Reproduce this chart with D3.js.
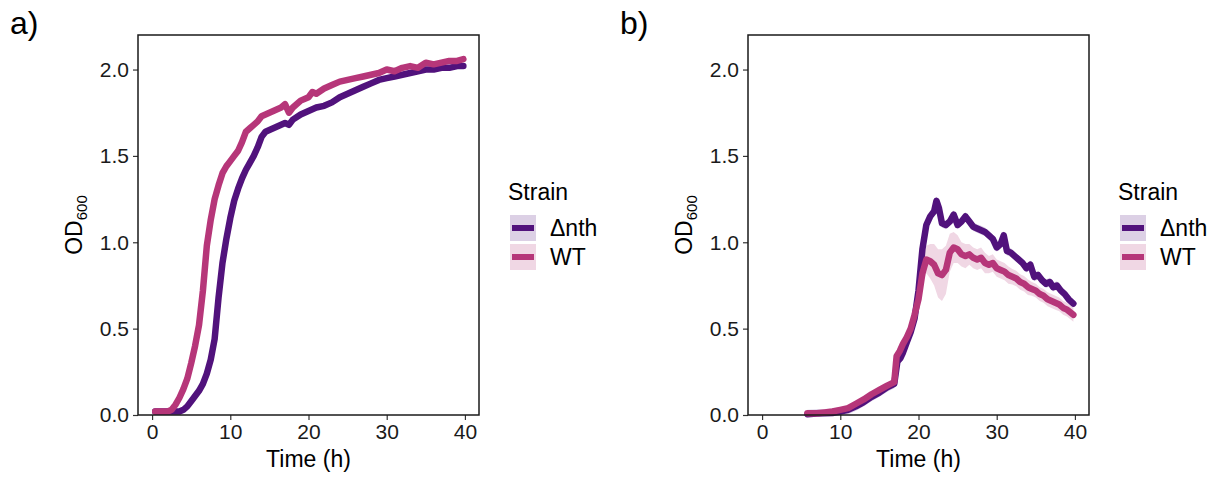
<!DOCTYPE html>
<html>
<head>
<meta charset="utf-8">
<script src="https://cdn.jsdelivr.net/npm/d3@7"></script>
<style>
  body { margin: 0; background: #fff; }
  text { font-family: 'Liberation Sans', Arial, sans-serif; }
</style>
</head>
<body>
<div id="chart"></div>
<script>
// data
const strains = ['Δnth', 'WT'];
const strainColors = ['#51127c', '#b63679'];
const xTicks = [0, 10, 20, 30, 40];
const yTicks = [0, 0.5, 1.0, 1.5, 2.0];

// panel a
const timeA_nth = [0.4, 1, 2, 3, 3.5, 4, 4.5, 5, 5.5, 6, 6.5, 7, 7.5, 8, 8.5, 9, 9.5, 10, 10.5, 11, 11.5, 12, 12.5, 13, 13.5, 14, 14.5, 15, 16, 17, 17.5, 18, 19, 20, 21, 22, 23, 24, 25, 26, 27, 28, 29, 30, 31, 32, 33, 34, 35, 36, 37, 38, 39, 39.8];
const odA_nth = [0.02, 0.02, 0.02, 0.02, 0.02, 0.03, 0.05, 0.08, 0.11, 0.14, 0.18, 0.24, 0.32, 0.44, 0.68, 0.88, 1.02, 1.14, 1.24, 1.31, 1.37, 1.42, 1.46, 1.50, 1.55, 1.61, 1.64, 1.65, 1.67, 1.69, 1.68, 1.71, 1.74, 1.76, 1.78, 1.79, 1.81, 1.84, 1.86, 1.88, 1.90, 1.92, 1.94, 1.95, 1.96, 1.97, 1.98, 1.99, 2.00, 2.00, 2.01, 2.01, 2.02, 2.02];
const timeA_wt = [0.4, 1, 2, 2.5, 3, 3.5, 4, 4.5, 5, 5.5, 6, 6.5, 7, 7.5, 8, 8.5, 9, 9.5, 10, 10.5, 11, 11.5, 12, 12.5, 13, 13.5, 14, 15, 16, 16.5, 17, 17.5, 18, 19, 20, 20.5, 21, 22, 23, 24, 25, 26, 27, 28, 29, 30, 31, 32, 33, 34, 35, 36, 37, 38, 39, 39.8];
const odA_wt = [0.02, 0.02, 0.02, 0.03, 0.06, 0.10, 0.15, 0.21, 0.30, 0.40, 0.52, 0.72, 0.98, 1.13, 1.25, 1.33, 1.40, 1.44, 1.47, 1.50, 1.53, 1.58, 1.64, 1.66, 1.68, 1.70, 1.73, 1.75, 1.77, 1.78, 1.80, 1.75, 1.78, 1.82, 1.84, 1.87, 1.86, 1.89, 1.91, 1.93, 1.94, 1.95, 1.96, 1.97, 1.98, 2.00, 1.99, 2.01, 2.02, 2.01, 2.04, 2.03, 2.04, 2.05, 2.05, 2.06];
const sdA_nth = 0.01;
const sdA_wt = 0.01;

// panel b
const timeB_nth = [5.8, 7, 8, 9, 10, 11, 12, 13, 14, 15, 16, 16.9, 17.3, 17.7, 18, 18.5, 19, 19.5, 20, 20.5, 21, 21.5, 22, 22.3, 22.6, 23, 23.5, 24, 24.5, 25, 25.5, 26, 26.5, 27, 27.5, 28, 28.5, 29, 29.5, 30, 30.5, 30.9, 31.3, 31.8, 32.3, 32.8, 33.3, 33.8, 34.3, 34.8, 35.3, 35.8, 36.3, 36.8, 37.2, 37.7, 38.2, 38.7, 39.2, 39.8];
const odB_nth = [0.005, 0.008, 0.01, 0.012, 0.02, 0.03, 0.05, 0.075, 0.105, 0.13, 0.16, 0.18, 0.31, 0.33, 0.36, 0.42, 0.48, 0.56, 0.72, 0.96, 1.10, 1.15, 1.18, 1.24, 1.20, 1.11, 1.10, 1.12, 1.16, 1.10, 1.12, 1.15, 1.12, 1.09, 1.08, 1.07, 1.06, 1.04, 1.02, 0.97, 0.99, 1.04, 0.95, 0.94, 0.92, 0.90, 0.88, 0.85, 0.87, 0.80, 0.81, 0.78, 0.76, 0.77, 0.74, 0.75, 0.72, 0.70, 0.67, 0.645];
const sdB_nth = 0.025;
const timeB_wt = [5.8, 7, 8, 9, 10, 11, 12, 13, 14, 15, 16, 16.9, 17.2, 17.6, 18, 18.5, 19, 19.5, 20, 20.5, 21, 21.5, 22, 22.5, 23, 23.5, 24, 24.5, 25, 25.5, 26, 26.5, 27, 27.5, 28, 28.5, 29, 29.5, 30, 30.5, 31, 31.5, 32, 32.5, 33, 33.5, 34, 34.5, 35, 35.5, 36, 36.5, 37, 37.5, 38, 38.5, 39, 39.8];
const odB_wt = [0.01, 0.01, 0.015, 0.02, 0.03, 0.04, 0.065, 0.09, 0.12, 0.145, 0.17, 0.19, 0.34, 0.37, 0.41, 0.45, 0.50, 0.58, 0.67, 0.82, 0.90, 0.89, 0.87, 0.82, 0.81, 0.84, 0.94, 0.97, 0.96, 0.93, 0.92, 0.93, 0.91, 0.90, 0.91, 0.88, 0.87, 0.88, 0.85, 0.84, 0.83, 0.81, 0.80, 0.79, 0.77, 0.76, 0.74, 0.73, 0.72, 0.70, 0.69, 0.67, 0.66, 0.65, 0.64, 0.62, 0.61, 0.58];
const sdB_wt = [0.005, 0.005, 0.005, 0.005, 0.005, 0.005, 0.008, 0.01, 0.01, 0.01, 0.01, 0.01, 0.02, 0.02, 0.02, 0.02, 0.02, 0.03, 0.04, 0.06, 0.08, 0.10, 0.12, 0.14, 0.15, 0.14, 0.11, 0.09, 0.08, 0.07, 0.07, 0.06, 0.06, 0.06, 0.06, 0.06, 0.05, 0.05, 0.05, 0.05, 0.05, 0.05, 0.045, 0.045, 0.045, 0.045, 0.045, 0.04, 0.04, 0.04, 0.04, 0.04, 0.04, 0.04, 0.04, 0.04, 0.04, 0.04];

const width = 1217;
const height = 477;

const svg = d3.select('#chart')
    .append('svg')
    .attr('width', width)
    .attr('height', height);

const toRows = (times, values, sd) => times.map((t, i) => ({
  t,
  v: values[i],
  sd: Array.isArray(sd) ? sd[i] : sd
}));

const panels = [
  {
    label: 'a)', left: 138,
    series: [toRows(timeA_nth, odA_nth, sdA_nth), toRows(timeA_wt, odA_wt, sdA_wt)]
  },
  {
    label: 'b)', left: 748,
    series: [toRows(timeB_nth, odB_nth, sdB_nth), toRows(timeB_wt, odB_wt, sdB_wt)]
  }
];

const panelW = 341;
const plotTop = 35;
const plotBottom = 415;

panels.forEach((p) => {
  const x = d3.scaleLinear().domain([-1.8, 41.8]).range([p.left, p.left + panelW]);
  const y = d3.scaleLinear().domain([0, 2.2]).range([plotBottom, plotTop]);
  const g = svg.append('g');

  // ribbons then lines, WT drawn last
  p.series.forEach((rows, i) => {
    g.append('path')
        .datum(rows)
        .attr('fill', strainColors[i])
        .attr('fill-opacity', 0.2)
        .attr('d', d3.area()
            .x((d) => x(d.t))
            .y0((d) => y(Math.max(0, d.v - d.sd)))
            .y1((d) => y(d.v + d.sd)));
  });
  p.series.forEach((rows, i) => {
    g.append('path')
        .datum(rows)
        .attr('fill', 'none')
        .attr('stroke', strainColors[i])
        .attr('stroke-width', 6.5)
        .attr('stroke-linejoin', 'round')
        .attr('stroke-linecap', 'round')
        .attr('d', d3.line().x((d) => x(d.t)).y((d) => y(d.v)));
  });

  const xAxis = g.append('g')
      .attr('transform', `translate(0,${plotBottom})`)
      .call(d3.axisBottom(x).tickValues(xTicks).tickSize(5).tickPadding(4).tickFormat(d3.format('d')));
  const yAxis = g.append('g')
      .attr('transform', `translate(${p.left},0)`)
      .call(d3.axisLeft(y).tickValues(yTicks).tickSize(5).tickPadding(4).tickFormat(d3.format('.1f')));
  [xAxis, yAxis].forEach((a) => {
    a.select('.domain').remove();
    a.selectAll('.tick line').attr('stroke', '#333').attr('stroke-width', 1.2);
    a.selectAll('.tick text')
        .attr('fill', '#1a1a1a')
        .attr('font-size', 21)
        .attr('font-family', "'Liberation Sans', Arial, sans-serif");
  });

  g.append('rect')
      .attr('x', p.left)
      .attr('y', plotTop)
      .attr('width', panelW)
      .attr('height', plotBottom - plotTop)
      .attr('fill', 'none')
      .attr('stroke', '#1a1a1a')
      .attr('stroke-width', 1.5);

  g.append('text')
      .attr('x', p.left + panelW / 2)
      .attr('y', 467)
      .attr('text-anchor', 'middle')
      .attr('font-size', 23)
      .text('Time (h)');

  const od = g.append('text')
      .attr('transform', `translate(${p.left - 56},${(plotTop + plotBottom) / 2}) rotate(-90)`)
      .attr('text-anchor', 'middle')
      .attr('font-size', 23);
  od.append('tspan').text('OD');
  od.append('tspan').attr('font-size', 15).attr('dy', 5).text('600');

  g.append('text')
      .attr('x', p.left - 128)
      .attr('y', 34)
      .attr('font-size', 32)
      .text(p.label);

  // legend
  const lx = p.left + panelW + 31;
  g.append('text')
      .attr('x', lx - 2)
      .attr('y', 200)
      .attr('font-size', 23)
      .text('Strain');
  strains.forEach((s, i) => {
    const ky = 215 + i * 29;
    g.append('rect')
        .attr('x', lx)
        .attr('y', ky)
        .attr('width', 26)
        .attr('height', 26)
        .attr('fill', strainColors[i])
        .attr('fill-opacity', 0.2);
    g.append('line')
        .attr('x1', lx + 2)
        .attr('x2', lx + 24)
        .attr('y1', ky + 13)
        .attr('y2', ky + 13)
        .attr('stroke', strainColors[i])
        .attr('stroke-width', 6);
    g.append('text')
        .attr('x', lx + 40)
        .attr('y', ky + 13)
        .attr('dy', '0.36em')
        .attr('font-size', 23)
        .text(s);
  });
});
</script>
</body>
</html>
